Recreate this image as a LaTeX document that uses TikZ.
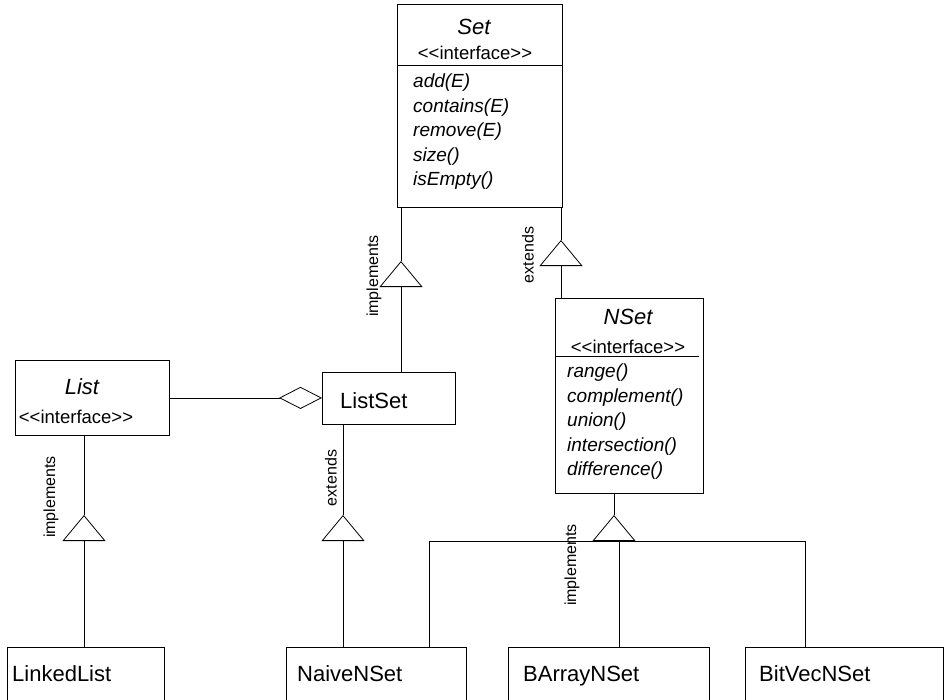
\documentclass[tikz,border=0pt]{standalone}
\usepackage{fontspec}
\setmainfont{Liberation Sans}
\usetikzlibrary{arrows.meta}

\begin{document}
\begin{tikzpicture}[x=1pt, y=-1pt,
  cls/.style={draw, line width=0.8pt, inner sep=0pt, anchor=north west},
  cname/.style={font=\fontsize{22}{26}\selectfont, anchor=base west, inner sep=0pt},
  iname/.style={font=\itshape\fontsize{22}{26}\selectfont, inner sep=0pt},
  stereo/.style={font=\fontsize{18.5}{22}\selectfont, inner sep=0pt},
  ops/.style={font=\itshape\fontsize{19}{24.5}\selectfont, align=left,
              anchor=west, inner sep=0pt},
  rel/.style={font=\fontsize{16}{18}\selectfont, rotate=90, inner sep=0pt},
  link/.style={line width=0.8pt},
  gen/.style={link, -{Triangle[open, length=26pt, width=43pt]}},
  agg/.style={link, -{Diamond[open, length=43pt, width=22pt]}}
]
  \clip (0,0) rectangle (944,699);

  % interfaces
  \node[cls, minimum width=165pt, minimum height=203pt] (set) at (397,4) {};
  \draw[link] ([yshift=-61pt]set.north west) -- ([yshift=-61pt]set.north east);
  \node[iname] (setname) at (474,27) {Set};
  \node[stereo] (setst) at (475,53) {<{}<interface>{}>};
  \node[ops] (setops) at (413,132) {add(E)\\contains(E)\\remove(E)\\size()\\isEmpty()};

  \node[cls, minimum width=148pt, minimum height=195pt] (nset) at (555,298) {};
  \draw[link] ([yshift=-58pt]nset.north west) -- ([yshift=-58pt,xshift=-5pt]nset.north east);
  \node[iname] (nsetname) at (628,317) {NSet};
  \node[stereo] (nsetst) at (628,347) {<{}<interface>{}>};
  \node[ops] (nsetops) at (567,422) {range()\\complement()\\union()\\intersection()\\difference()};

  \node[cls, minimum width=154pt, minimum height=75pt] (list) at (15,360) {};
  \node[iname] (listname) at (82,387) {List};
  \node[stereo] (listst) at (76,417) {<{}<interface>{}>};

  % classes
  \node[cls, minimum width=133pt, minimum height=52pt] (listset) at (322,372) {};
  \node[cname] (listsetname) at (340,408) {ListSet};

  \node[cls, minimum width=157pt, minimum height=70pt] (linked) at (7,647) {};
  \node[cname] (linkedname) at (12,681) {LinkedList};
  \node[cls, minimum width=180pt, minimum height=70pt] (naive) at (286,647) {};
  \node[cname] (naivename) at (297,681) {NaiveNSet};
  \node[cls, minimum width=201pt, minimum height=70pt] (barray) at (508,647) {};
  \node[cname] (barrayname) at (523,681) {BArrayNSet};
  \node[cls, minimum width=198pt, minimum height=70pt] (bitvec) at (745,647) {};
  \node[cname] (bitvecname) at (759,681) {BitVecNSet};

  % relations
  \coordinate (a1) at (401,261);
  \draw[link] (set.south -| a1) -- (a1);
  \draw[gen] (listset.north -| a1) -- (a1);
  \node[rel] (lbl1) at (374,276) {implements};

  \coordinate (a2) at (561,240);
  \draw[link] (set.south -| a2) -- (a2);
  \draw[gen] (nset.north -| a2) -- (a2);
  \node[rel] (lbl2) at (528,255) {extends};

  \draw[agg] (list.east) -- (list.east -| listset.west);

  \coordinate (a3) at (84,515);
  \draw[link] (list.south -| a3) -- (a3);
  \draw[gen] (linked.north -| a3) -- (a3);
  \node[rel] (lbl3) at (51,497) {implements};

  \coordinate (a4) at (343,515);
  \draw[link] (listset.south -| a4) -- (a4);
  \draw[gen] (naive.north -| a4) -- (a4);
  \node[rel] (lbl4) at (331,478) {extends};

  \coordinate (a5) at (614,515);
  \coordinate (bus) at (614,541);
  \coordinate (b1) at (429,541);
  \coordinate (b2) at (619,541);
  \coordinate (b3) at (805,541);
  \draw[link] (nset.south -| a5) -- (a5);
  \draw[gen] (bus) -- (a5);
  \draw[link] (naive.north -| b1) -- (b1) -- (b3) -- (bitvec.north -| b3);
  \draw[link] (b2) -- (barray.north -| b2);
  \node[rel] (lbl5) at (572,565) {implements};
\end{tikzpicture}
\end{document}
